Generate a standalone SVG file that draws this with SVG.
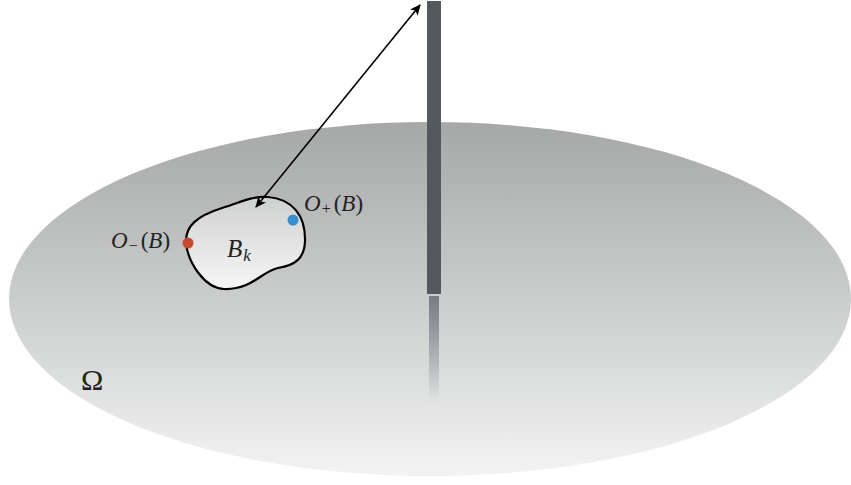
<svg xmlns="http://www.w3.org/2000/svg" width="851" height="485" viewBox="0 0 851 485">
  <defs>
    <linearGradient id="plane" x1="0" y1="0" x2="0" y2="1">
      <stop offset="0" stop-color="#a5a8a7"/>
      <stop offset="0.5" stop-color="#cacdcc"/>
      <stop offset="1" stop-color="#f3f3f3"/>
    </linearGradient>
    <linearGradient id="blobfill" x1="0" y1="0" x2="0" y2="1">
      <stop offset="0" stop-color="#cfd1d0"/>
      <stop offset="1" stop-color="#f6f6f6"/>
    </linearGradient>
    <linearGradient id="fade" x1="0" y1="0" x2="0" y2="1">
      <stop offset="0" stop-color="#6e737b" stop-opacity="0.9"/>
      <stop offset="1" stop-color="#6e737b" stop-opacity="0"/>
    </linearGradient>
    <marker id="ah" viewBox="0 0 10 10" refX="9" refY="5" markerWidth="11" markerHeight="11" markerUnits="userSpaceOnUse" orient="auto-start-reverse">
      <path d="M0,0.5 L10,5 L0,9.5 L2.5,5 Z" fill="#000"/>
    </marker>
    <style>
      .math { font-family: "Liberation Serif", "DejaVu Serif", serif; font-style: italic; fill: #222; }
      .up { font-family: "Liberation Serif", "DejaVu Serif", serif; fill: #222; }
      .dot { stroke: none; }
    </style>
  </defs>
  <rect width="851" height="485" fill="#ffffff"/>
  <g id="omega-plane">
    <ellipse cx="430" cy="299" rx="421" ry="177" fill="url(#plane)"/>
    <text class="up" x="81" y="390" font-size="30">Ω</text>
  </g>
  <g id="pole">
    <rect x="427" y="1" width="14" height="293" fill="#54585e"/>
    <rect x="429" y="296" width="10" height="106" fill="url(#fade)"/>
  </g>
  <g id="blob-Bk">
    <path d="M186,243 C185,226 197,216 222,208 C240,203 250,196 268,197 C292,199 306,215 305,242 C304,258 296,265 278,268 C262,271 252,290 224,289 C204,288 188,262 186,243 Z" fill="url(#blobfill)" stroke="#000" stroke-width="2.2"/>
    <text class="math" x="227" y="257" font-size="25">B<tspan font-size="17" dy="4" dx="1">k</tspan></text>
  </g>
  <g id="point-minus">
    <circle class="dot" cx="188" cy="243" r="5.5" fill="#c9482f"/>
    <text x="111" y="248" font-size="23"><tspan class="math">O</tspan><tspan class="up" font-size="16" dy="3" dx="1">−</tspan><tspan class="up" dy="-3" dx="3">(</tspan><tspan class="math">B</tspan><tspan class="up">)</tspan></text>
  </g>
  <g id="point-plus">
    <circle class="dot" cx="293" cy="220" r="5.5" fill="#3b8ccb"/>
    <text x="304" y="211" font-size="23"><tspan class="math">O</tspan><tspan class="up" font-size="16" dy="3" dx="1">+</tspan><tspan class="up" dy="-3" dx="3">(</tspan><tspan class="math">B</tspan><tspan class="up">)</tspan></text>
  </g>
  <g id="connectors">
    <line x1="256" y1="207" x2="420" y2="5" stroke="#000" stroke-width="1.6" marker-start="url(#ah)" marker-end="url(#ah)"/>
  </g>
</svg>
